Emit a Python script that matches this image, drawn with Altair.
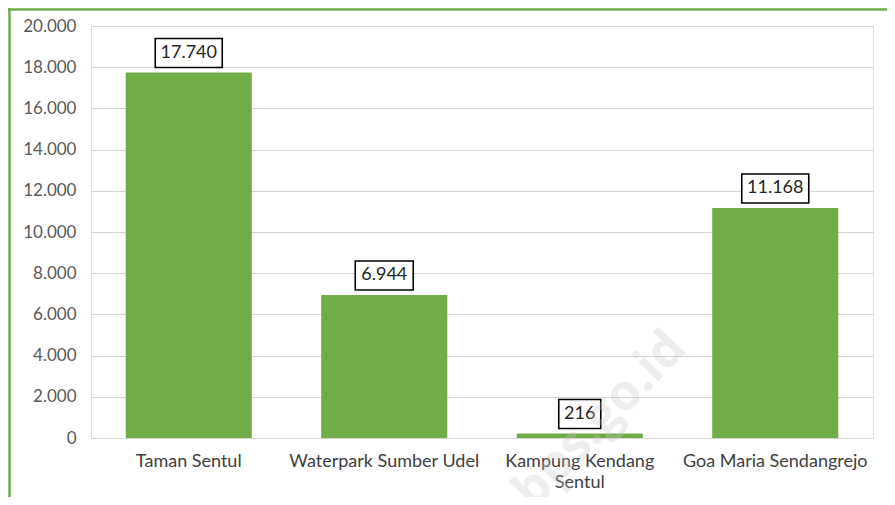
import altair as alt
import pandas as pd

categories = ["Taman Sentul", "Waterpark Sumber Udel", "Kampung Kendang Sentul", "Goa Maria Sendangrejo"]
visitors = [17740, 6944, 216, 11168]
y_ticks = [0, 2000, 4000, 6000, 8000, 10000, 12000, 14000, 16000, 18000, 20000]

df = pd.DataFrame({"cat": categories, "value": visitors})

GREEN = "#70AD47"
FONT = "Lato"

xenc = alt.X(
    "cat:N", sort=categories, title=None,
    scale=alt.Scale(paddingInner=0.355, paddingOuter=0.1775),
    axis=alt.Axis(
        labelAngle=0, labelFont=FONT, labelFontSize=18, labelColor="#404040",
        labelPadding=14, ticks=False, domain=False, labelLineHeight=21, labelLimit=400,
        labelExpr="datum.value == 'Kampung Kendang Sentul' ? ['Kampung Kendang', 'Sentul'] : datum.value",
    ),
)
yenc = alt.Y(
    "value:Q", title=None,
    scale=alt.Scale(domain=[0, 20000], nice=False),
    axis=alt.Axis(
        values=y_ticks, labelFont=FONT, labelFontSize=17, labelColor="#595959",
        labelPadding=15, ticks=False, domain=False, gridColor="#d4d4d4", gridWidth=1.2,
        labelExpr="replace(format(datum.value, ','), ',', '.')",
    ),
)

base = alt.Chart(df).transform_calculate(
    label="replace(format(datum.value, ','), ',', '.')",
    nchar="length(replace(format(datum.value, ','), ',', '.'))",
)

bars = base.mark_bar(color=GREEN).encode(x=xenc, y=yenc)

box_layers = []
for n, w in [(6, 67), (5, 58), (3, 42)]:
    box_layers.append(
        base.transform_filter(f"datum.nchar == {n}").mark_bar(
            width=w, fill="white", stroke="black", strokeWidth=1.6,
            yOffset=-5, y2Offset=-34,
        ).encode(x=alt.X("cat:N", sort=categories), y="value:Q", y2="value:Q")
    )

labels = base.mark_text(
    font=FONT, fontSize=18, color="#262626", baseline="middle", yOffset=-19.5
).encode(x=alt.X("cat:N", sort=categories), y="value:Q", text="label:N")

frame_top = alt.Chart(alt.Data(values=[{}])).mark_rule(color=GREEN, strokeWidth=2.5).encode(
    x=alt.value(-83), x2=alt.value(800), y=alt.value(-16.5)
)
frame_left = alt.Chart(alt.Data(values=[{}])).mark_rule(color=GREEN, strokeWidth=2.5).encode(
    x=alt.value(-81.5), y=alt.value(-18), y2=alt.value(480)
)

watermark = alt.Chart(alt.Data(values=[{}])).mark_text(
    angle=314, fontSize=50, fontWeight="bold", font="Open Sans",
    color="#c8c8c8", opacity=0.3, align="center", baseline="middle",
).encode(x=alt.value(509), y=alt.value(394), text=alt.value("bps.go.id"))

chart = alt.layer(bars, *box_layers, labels, watermark, frame_top, frame_left).properties(
    width=782, height=412,
    autosize=alt.AutoSizeParams(type="none"),
    padding={"left": 83, "top": 18, "right": 14, "bottom": 59},
).configure_view(stroke=None).configure(background="white")

chart.save("out.html", embed_options={"renderer": "svg", "actions": False})
